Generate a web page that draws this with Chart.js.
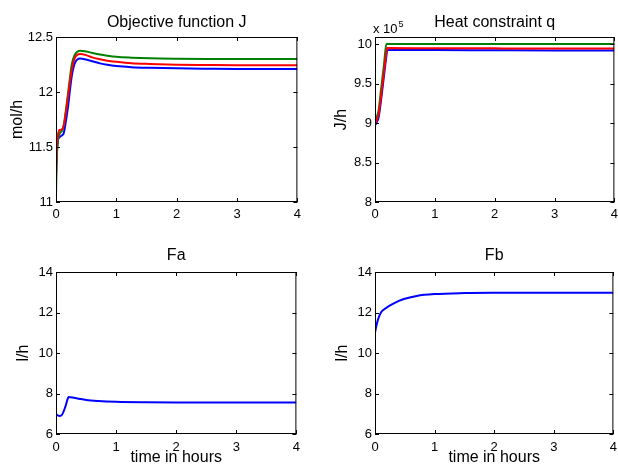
<!DOCTYPE html>
<html>
<head>
<meta charset="utf-8">
<script src="https://cdn.jsdelivr.net/npm/chart.js@4.4.0/dist/chart.umd.min.js"></script>
<style>
  html, body { margin: 0; padding: 0; background: #fff; }
  body { width: 618px; height: 465px; position: relative; overflow: hidden; }
  canvas { position: absolute; }
</style>
</head>
<body>
<canvas id="chartJ" width="306" height="226" style="left:0;top:0"></canvas>
<canvas id="chartQ" width="305" height="226" style="left:318px;top:0"></canvas>
<canvas id="chartFa" width="306" height="235" style="left:0;top:232px"></canvas>
<canvas id="chartFb" width="305" height="235" style="left:318px;top:232px"></canvas>
<script>
// Objective function J (mol/h)
const tJ = [0, 0.01, 0.03, 0.06, 0.1, 0.13, 0.16, 0.2, 0.26, 0.31, 0.4, 0.5, 0.6, 0.73, 0.85, 1.0, 1.25, 1.55, 2, 2.5, 3, 3.5, 4];
const jRed   = [11.2, 11.45, 11.6, 11.655, 11.66, 11.7, 11.8, 11.96, 12.2, 12.306, 12.345, 12.335, 12.315, 12.297, 12.285, 12.275, 12.262, 12.255, 12.248, 12.245, 12.243, 12.243, 12.243];
const jBlue  = [11.25, 11.42, 11.55, 11.59, 11.605, 11.63, 11.72, 11.87, 12.14, 12.26, 12.305, 12.295, 12.28, 12.26, 12.247, 12.236, 12.226, 12.22, 12.215, 12.212, 12.21, 12.21, 12.21];
const jGreen = [11.05, 11.35, 11.55, 11.62, 11.65, 11.7, 11.82, 11.99, 12.245, 12.336, 12.376, 12.368, 12.355, 12.34, 12.33, 12.32, 12.312, 12.306, 12.302, 12.3, 12.3, 12.3, 12.3];

// Heat constraint q (J/h, x 10^5)
const tQ = [0, 0.03, 0.06, 0.1, 0.15, 0.19, 0.2, 0.21, 1, 2, 3, 4];
const qGreen = [9.04, 9.08, 9.16, 9.42, 9.74, 10.0, 10.0, 10.0, 10.0, 10.0, 10.0, 10.0];
const qRed   = [8.99, 9.04, 9.11, 9.33, 9.65, 9.9, 9.95, 9.95, 9.948, 9.946, 9.945, 9.945];
const qBlue  = [8.97, 9.01, 9.07, 9.28, 9.6, 9.85, 9.91, 9.925, 9.925, 9.922, 9.92, 9.92];

// Feeds Fa, Fb (l/h)
const tFa = [0, 0.03, 0.06, 0.1, 0.15, 0.2, 0.21, 0.3, 0.4, 0.5, 0.7, 1.0, 1.5, 2, 3, 4];
const fa  = [6.98, 6.92, 6.89, 6.95, 7.3, 7.78, 7.83, 7.79, 7.73, 7.68, 7.63, 7.59, 7.565, 7.555, 7.55, 7.55];
const tFb = [0, 0.02, 0.05, 0.1, 0.15, 0.2, 0.3, 0.4, 0.5, 0.7, 1.0, 1.5, 2, 3, 4];
const fb  = [11.0, 11.3, 11.65, 12.0, 12.15, 12.25, 12.42, 12.57, 12.68, 12.82, 12.91, 12.96, 12.975, 12.98, 12.98];

const xTicks = [0, 1, 2, 3, 4];

const FONT = 'Liberation Sans, Arial, Helvetica, sans-serif';

// axes box, inward ticks, title and exponent like matlab
const boxPlugin = {
  id: 'matlabBox',
  afterDraw(chart, args, opts) {
    const { ctx, chartArea: a, scales: { x, y } } = chart;
    const L = 4;
    ctx.save();
    ctx.strokeStyle = '#000';
    ctx.lineWidth = 1;
    ctx.strokeRect(a.left + 0.5, a.top + 0.5, a.right - a.left - 1, a.bottom - a.top - 1);
    ctx.beginPath();
    x.ticks.forEach(t => {
      const px = Math.round(x.getPixelForValue(t.value)) + 0.5;
      ctx.moveTo(px, a.bottom); ctx.lineTo(px, a.bottom - L);
      ctx.moveTo(px, a.top); ctx.lineTo(px, a.top + L);
    });
    y.ticks.forEach(t => {
      const py = Math.round(y.getPixelForValue(t.value)) + 0.5;
      ctx.moveTo(a.left, py); ctx.lineTo(a.left + L, py);
      ctx.moveTo(a.right, py); ctx.lineTo(a.right - L, py);
    });
    ctx.stroke();

    ctx.fillStyle = '#000';
    ctx.textBaseline = 'alphabetic';
    ctx.textAlign = 'center';
    ctx.font = '16px ' + FONT;
    ctx.fillText(opts.title, (a.left + a.right) / 2, a.top - opts.titleGap);

    if (opts.exponent) {
      ctx.textAlign = 'left';
      ctx.font = '13px ' + FONT;
      ctx.fillText('x 10', a.left - 2, a.top - 4);
      const w = ctx.measureText('x 10').width;
      ctx.font = '9px ' + FONT;
      ctx.fillText(opts.exponent, a.left - 2 + w + 1, a.top - 10);
    }
    ctx.restore();
  }
};

function series(ts, vs, color) {
  return {
    data: ts.map((t, i) => ({ x: t, y: vs[i] })),
    borderColor: color,
    borderWidth: 2,
    pointRadius: 0,
    fill: false,
    cubicInterpolationMode: 'monotone'
  };
}

function makePlot(id, cfg) {
  new Chart(document.getElementById(id), {
    type: 'line',
    data: { datasets: cfg.datasets },
    plugins: [boxPlugin],
    options: {
      responsive: false,
      animation: false,
      events: [],
      layout: { padding: { top: cfg.top, right: 8 } },
      plugins: {
        legend: { display: false },
        tooltip: { enabled: false },
        matlabBox: { title: cfg.title, titleGap: cfg.titleGap, exponent: cfg.exponent }
      },
      scales: {
        x: {
          type: 'linear',
          min: 0, max: 4,
          afterBuildTicks: s => { s.ticks = xTicks.map(v => ({ value: v })); },
          grid: { display: false, drawTicks: false },
          border: { display: false },
          ticks: { color: '#000', padding: cfg.xPad, maxRotation: 0, font: { family: FONT, size: 13 } },
          title: {
            display: !!cfg.xTitle,
            text: cfg.xTitle,
            color: '#000',
            padding: { top: 0, bottom: 0 },
            font: { family: FONT, size: 16 }
          },
          afterFit: s => { s.height = cfg.xHeight; }
        },
        y: {
          min: cfg.yMin, max: cfg.yMax,
          grid: { display: false, drawTicks: false },
          border: { display: false },
          ticks: {
            color: '#000', padding: 3, stepSize: cfg.yStep, includeBounds: false,
            font: { family: FONT, size: 13 },
            callback: v => String(Math.round(v * 100) / 100)
          },
          title: {
            display: true,
            text: cfg.yTitle,
            color: '#000',
            padding: { top: cfg.yTitlePad, bottom: 0 },
            font: { family: FONT, size: 16 }
          },
          afterFit: s => { s.width = cfg.yWidth; }
        }
      }
    }
  });
}

makePlot('chartJ', {
  title: 'Objective function J', top: 37, titleGap: 10,
  datasets: [series(tJ, jRed, '#ff0000'), series(tJ, jGreen, '#008000'), series(tJ, jBlue, '#0000ff')],
  yMin: 11, yMax: 12.5, yStep: 0.5, yTitle: 'mol/h', yTitlePad: 8, yWidth: 56,
  xPad: 5, xHeight: 24
});

makePlot('chartQ', {
  title: 'Heat constraint q', top: 37, titleGap: 10,
  exponent: '5',
  datasets: [series(tQ, qRed, '#ff0000'), series(tQ, qGreen, '#008000'), series(tQ, qBlue, '#0000ff')],
  yMin: 8, yMax: 10.09, yStep: 0.5, yTitle: 'J/h', yTitlePad: 13.5, yWidth: 57,
  xPad: 5, xHeight: 24
});

makePlot('chartFa', {
  title: 'Fa', top: 40, titleGap: 12,
  datasets: [series(tFa, fa, '#0000ff')],
  yMin: 6, yMax: 14, yStep: 2, yTitle: 'l/h', yTitlePad: 14, yWidth: 56,
  xPad: 6, xHeight: 33, xTitle: 'time in hours'
});

makePlot('chartFb', {
  title: 'Fb', top: 40, titleGap: 12,
  datasets: [series(tFb, fb, '#0000ff')],
  yMin: 6, yMax: 14, yStep: 2, yTitle: 'l/h', yTitlePad: 14.5, yWidth: 57,
  xPad: 6, xHeight: 33, xTitle: 'time in hours'
});
</script>
</body>
</html>
